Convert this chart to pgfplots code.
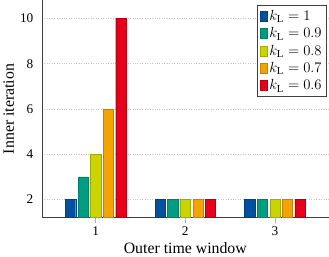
\documentclass[border=0pt]{standalone}
\usepackage{fontspec}
\setmainfont{Liberation Serif}
\usepackage{pgfplots}
\pgfplotsset{compat=1.18}
\definecolor{cA}{RGB}{0,82,160}
\definecolor{cB}{RGB}{0,157,129}
\definecolor{cC}{RGB}{201,212,0}
\definecolor{cD}{RGB}{245,163,0}
\definecolor{cE}{RGB}{230,0,26}
\begin{document}
\begin{tikzpicture}
\begin{axis}[
  scale only axis,
  width=281pt, height=213pt,
  ybar=2.3pt, bar width=10pt,
  xmin=0.4, xmax=3.6, ymin=1.2, ymax=10.8,
  xtick={1,2,3}, ytick={2,4,6,8,10},
  xticklabel={\pgfmathprintnumber{\tick}},
  yticklabel={\pgfmathprintnumber{\tick}},
  axis x line*=bottom, axis y line*=left,
  axis line style={-, draw=black!75, line width=0.7pt},
  tick align=outside,
  major tick length=5pt,
  x tick style={draw=black!30, line width=0.6pt},
  y tick style={draw=none},
  ymajorgrids, grid style={dotted, black!22, line width=0.6pt},
  /pgf/number format/assume math mode=true,
  tick label style={font=\fontsize{13}{15}\selectfont},
  label style={font=\fontsize{15.5}{18}\selectfont},
  xlabel={Outer time window},
  ylabel={Inner iteration},
  ylabel style={yshift=-1pt},
  legend style={at={(0.993,0.977)}, anchor=north east, draw=black!75, line width=0.7pt,
    font=\fontsize{15}{17}\selectfont, row sep=1.5pt, inner sep=2.5pt},
  legend cell align=left,
  legend image code/.code={\fill[#1] (0pt,-5pt) rectangle (7pt,5pt);},
]
\addplot[fill=cA, draw=cA!80!black, line width=0.4pt] coordinates {(1,2) (2,2) (3,2)};
\addplot[fill=cB, draw=cB!80!black, line width=0.4pt] coordinates {(1,3) (2,2) (3,2)};
\addplot[fill=cC, draw=cC!80!black, line width=0.4pt] coordinates {(1,4) (2,2) (3,2)};
\addplot[fill=cD, draw=cD!80!black, line width=0.4pt] coordinates {(1,6) (2,2) (3,2)};
\addplot[fill=cE, draw=cE!80!black, line width=0.4pt] coordinates {(1,10) (2,2) (3,2)};
\legend{$k_{\mathrm{L}}=1$,$k_{\mathrm{L}}=0.9$,$k_{\mathrm{L}}=0.8$,$k_{\mathrm{L}}=0.7$,$k_{\mathrm{L}}=0.6$}
\end{axis}
\end{tikzpicture}
\end{document}
